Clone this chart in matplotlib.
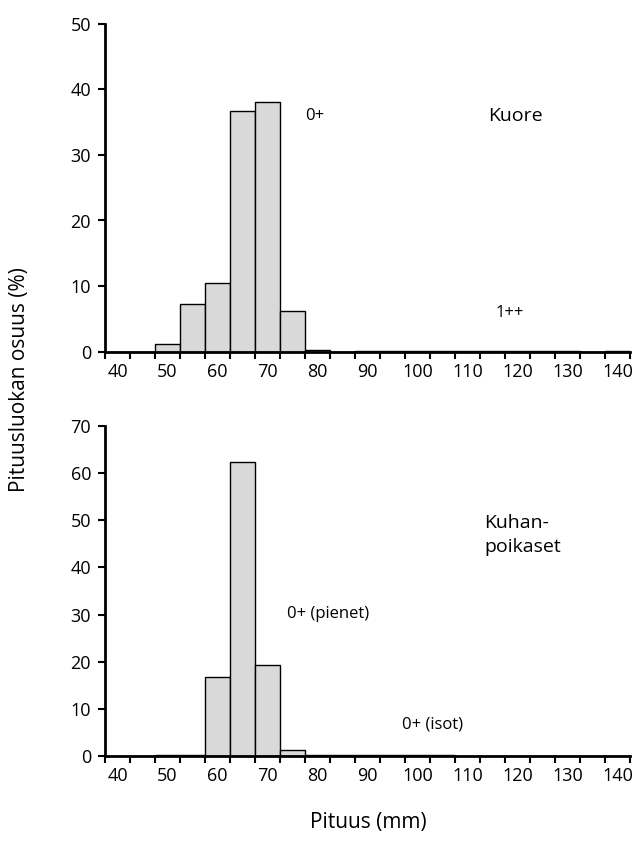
import numpy as np
import matplotlib
matplotlib.use('Agg')
import matplotlib.pyplot as plt

plt.rcParams['font.family'] = ['Open Sans', 'DejaVu Sans']

# length classes (mm), 5 mm bins
classes = list(range(40, 145, 5))
kuore = [0, 0, 1.2, 7.3, 10.5, 36.7, 38.1, 6.2, 0.2, 0,
         0.15, 0.15, 0.15, 0.15, 0.15, 0.15, 0.15, 0.15, 0.15, 0, 0.15]
kuha = [0, 0, 0.3, 0.3, 16.8, 62.3, 19.3, 1.3, 0.3, 0.3,
        0.3, 0.3, 0.3, 0.3, 0, 0, 0, 0, 0, 0, 0]
tick_labels = [str(c) if c % 10 == 0 else '' for c in classes]

fig = plt.figure(figsize=(6.35, 8.55), dpi=100)
ax1 = fig.add_axes([105/635, 1-351.7/855, 525/635, 328/855])
ax2 = fig.add_axes([105/635, 1-756/855, 525/635, 330/855])


def style(ax, data, ymax):
    x = np.arange(len(classes))
    ax.bar(x, data, width=1.0, color='#d9d9d9', edgecolor='black', linewidth=1.0, zorder=2)
    ax.set_xlim(-0.5, len(classes) - 0.5)
    ax.set_ylim(0, ymax)
    ax.set_yticks(np.arange(0, ymax + 1, 10))
    ax.set_xticks(np.arange(-0.5, len(classes), 1.0))
    ax.set_xticklabels([])
    ax.set_xticks(x, minor=True)
    ax.set_xticklabels(tick_labels, minor=True)
    ax.tick_params(axis='x', which='minor', length=0, pad=8, labelsize=13)
    ax.tick_params(axis='x', which='major', length=5, width=1.5, direction='out')
    ax.tick_params(axis='y', length=5, width=1.5, direction='out', labelsize=13, pad=5)
    for s in ['top', 'right']:
        ax.spines[s].set_visible(False)
    for s in ['left', 'bottom']:
        ax.spines[s].set_linewidth(2)
        ax.spines[s].set_zorder(3)
    ax.spines['left'].set_bounds(0, ymax)


style(ax1, kuore, 50)
style(ax2, kuha, 70)

fig.text(315/635, 1-116/855, '0+', fontsize=12, ha='center', va='center')
fig.text(515/635, 1-116/855, 'Kuore', fontsize=14, ha='center', va='center')
fig.text(510/635, 1-313/855, '1++', fontsize=12, ha='center', va='center')
fig.text(484/635, 1-535/855, 'Kuhan-\npoikaset', fontsize=14, ha='left', va='center',
         linespacing=1.45)
fig.text(328/635, 1-614/855, '0+ (pienet)', fontsize=12, ha='center', va='center')
fig.text(432/635, 1-724/855, '0+ (isot)', fontsize=12, ha='center', va='center')
fig.text(20/635, 1-380/855, 'Pituusluokan osuus (%)', fontsize=15, rotation=90,
         ha='center', va='center')
fig.text(368/635, 1-822/855, 'Pituus (mm)', fontsize=15, ha='center', va='center')

fig.savefig('out.png', dpi=100)
